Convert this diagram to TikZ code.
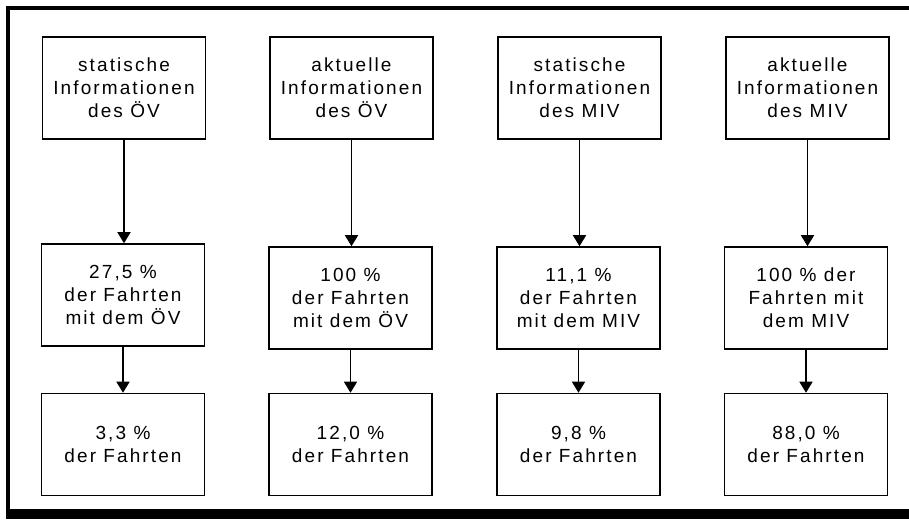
\documentclass[tikz,border=0pt]{standalone}
\usepackage{fontspec}
\setmainfont{Liberation Sans}[LetterSpace=11]
\usetikzlibrary{arrows.meta}

\tikzset{
  box/.style={draw, line width=1.5bp, minimum width=163bp, minimum height=102bp,
    inner sep=0pt, align=center, font=\fontsize{19bp}{23bp}\selectfont},
  flow/.style={line width=1.5bp, -{Triangle[width=13bp,length=11bp]}},
  frame/.style={fill=black}
}

\begin{document}
\begin{tikzpicture}[x=1bp, y=-1bp]
  \useasboundingbox (0,0) rectangle (909,520);
  \fill[white] (0,0) rectangle (909,520);

  % heavy outer frame (top, left, bottom)
  \fill[frame] (6,6) rectangle (909,10);
  \fill[frame] (6,6) rectangle (10,519);
  \fill[frame] (6,509) rectangle (909,519);

  % row of information sources
  \node[box] (t1) at (124,88)   {statische\\Informationen\\des ÖV};
  \node[box] (t2) at (351.5,88) {aktuelle\\Informationen\\des ÖV};
  \node[box] (t3) at (579.5,88) {statische\\Informationen\\des MIV};
  \node[box] (t4) at (807.5,88) {aktuelle\\Informationen\\des MIV};

  % share of trips reached
  \node[box] (m1) at (123,295)   {27,5 \%\\der Fahrten\\mit dem ÖV};
  \node[box] (m2) at (350.5,298) {100 \%\\der Fahrten\\mit dem ÖV};
  \node[box] (m3) at (578.5,298) {11,1 \%\\der Fahrten\\mit dem MIV};
  \node[box] (m4) at (806,298)   {100 \% der\\Fahrten mit\\dem MIV};

  % resulting share of all trips
  \node[box] (b1) at (123,444.5)   {3,3 \%\\der Fahrten};
  \node[box] (b2) at (350.5,444.5) {12,0 \%\\der Fahrten};
  \node[box] (b3) at (578.5,444.5) {9,8 \%\\der Fahrten};
  \node[box] (b4) at (806,444.5)   {88,0 \%\\der Fahrten};

  \foreach \i in {1,...,4} {
    \draw[flow] (t\i.south) -- (t\i.south |- m\i.north);
    \draw[flow] (m\i.south) -- (m\i.south |- b\i.north);
  }
\end{tikzpicture}
\end{document}
